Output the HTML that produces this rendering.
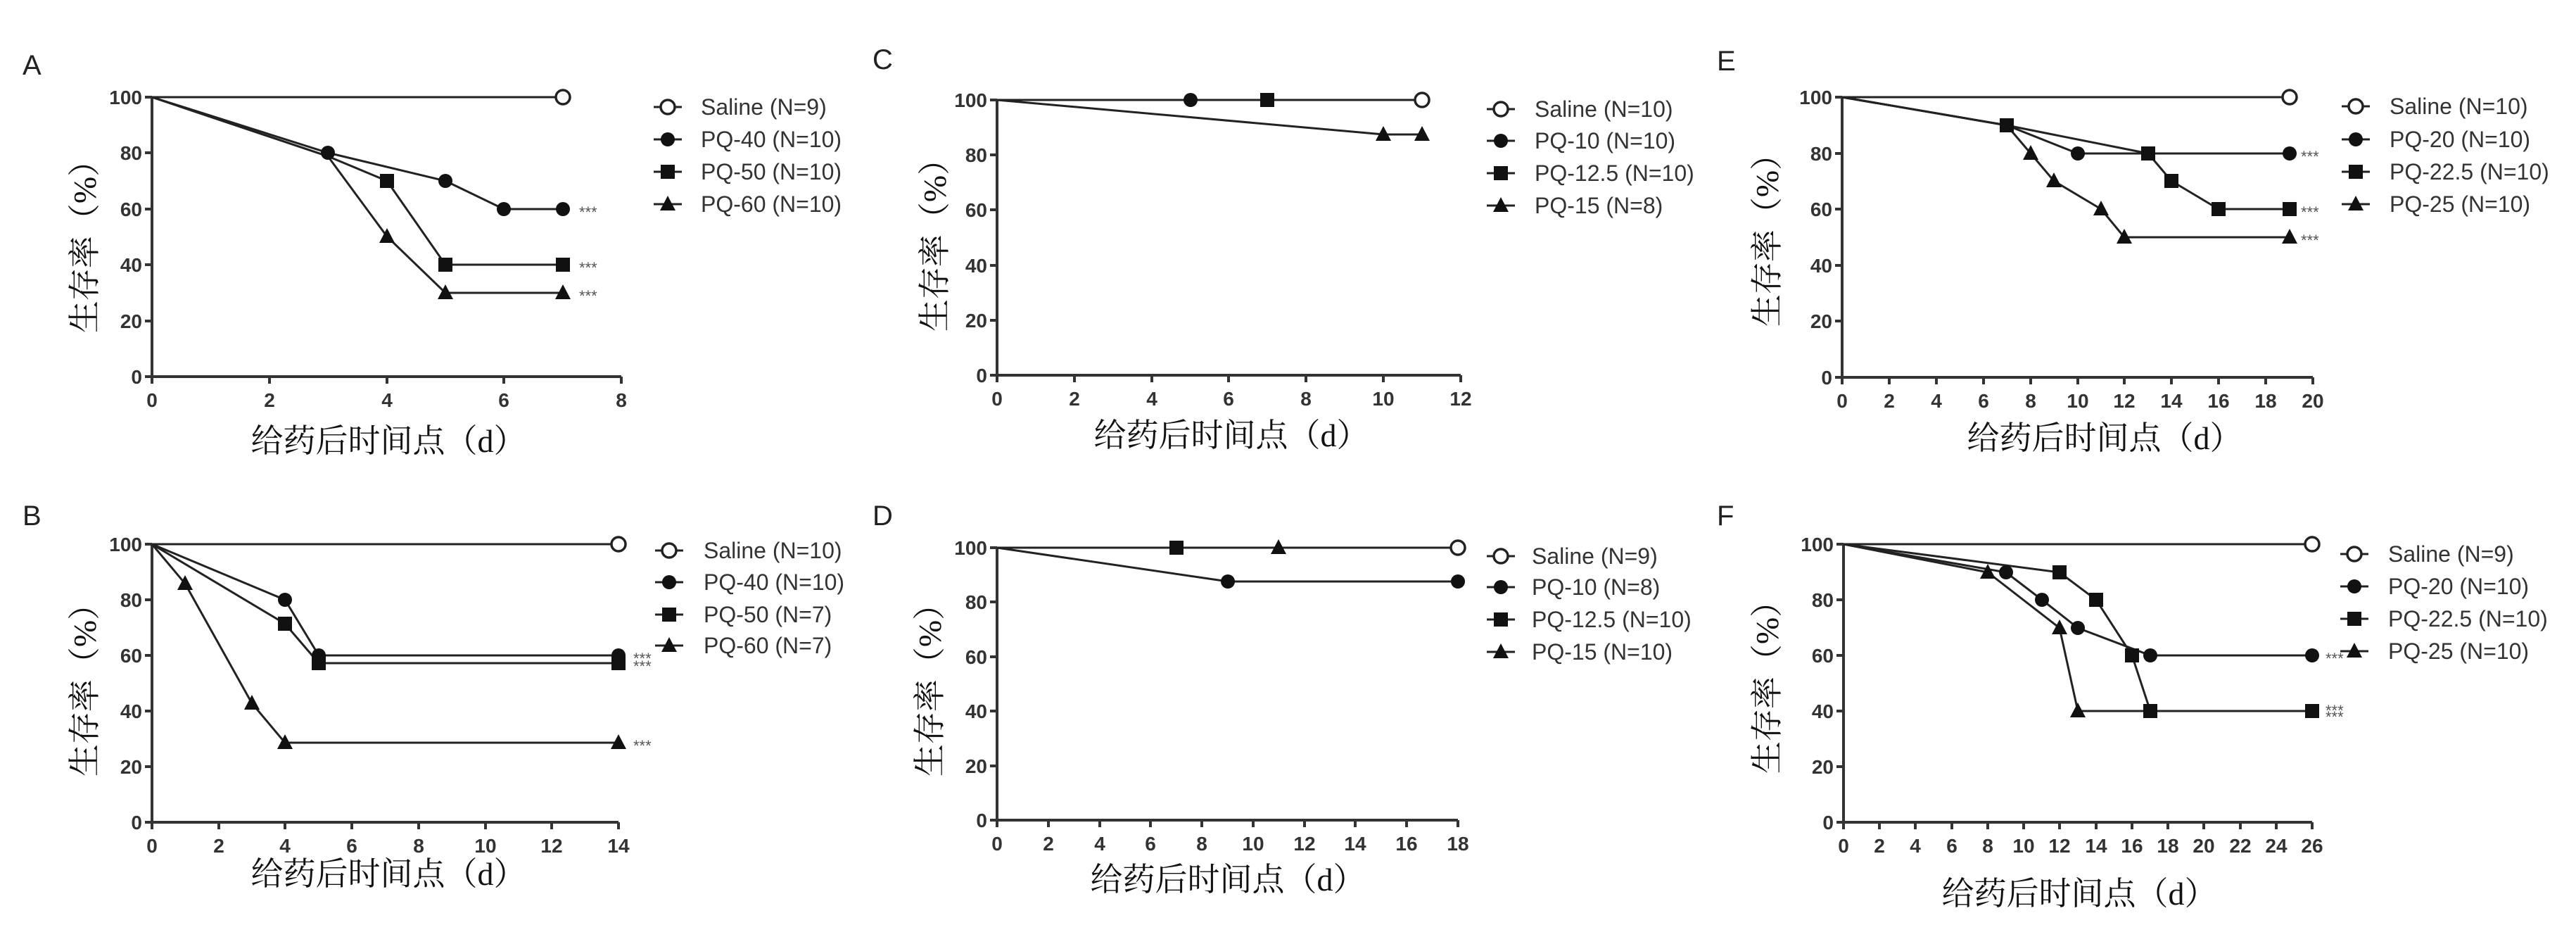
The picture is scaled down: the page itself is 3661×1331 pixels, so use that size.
<!DOCTYPE html>
<html><head><meta charset="utf-8"><style>
html,body{margin:0;padding:0;background:#fff;}
svg{display:block;}
.t{font-family:"Liberation Sans",Arial,sans-serif;font-size:28px;font-weight:bold;fill:#333;}
.lg{font-family:"Liberation Sans",Arial,sans-serif;font-size:32px;fill:#333;}
.pl{font-family:"Liberation Sans",Arial,sans-serif;font-size:40px;fill:#222;}
.cn{font-family:"Liberation Serif","Noto Serif CJK SC","Noto Sans CJK SC",serif;font-size:46px;fill:#111;}
.st{font-family:"Liberation Sans",Arial,sans-serif;font-size:22px;fill:#555;}
.ln{fill:none;stroke:#222;stroke-width:3;}
.ax{fill:none;stroke:#333;stroke-width:4;}
</style></head><body>
<svg width="3661" height="1331" viewBox="0 0 3661 1331" xmlns="http://www.w3.org/2000/svg">
<defs>
<g id="c"><circle r="10" fill="#111"/></g>
<g id="o"><circle r="10" fill="#fff" stroke="#222" stroke-width="3.5"/></g>
<g id="s"><rect x="-10" y="-10" width="20" height="20" fill="#111"/></g>
<g id="tr"><polygon points="0,-12 11,9 -11,9" fill="#111"/></g>
</defs>

<!-- ============ PANEL A ============ -->
<text class="pl" x="32" y="106">A</text>
<path class="ax" d="M216,138 V535 H883"/>
<path class="ax" stroke-width="3" d="M206,138H216M206,217H216M206,297H216M206,376H216M206,456H216M206,535H216M216,535V545M383,535V545M550,535V545M716,535V545M883,535V545"/>
<g class="t" text-anchor="end"><text x="202" y="148">100</text><text x="202" y="227">80</text><text x="202" y="307">60</text><text x="202" y="386">40</text><text x="202" y="466">20</text><text x="202" y="545">0</text></g>
<g class="t" text-anchor="middle"><text x="216" y="578">0</text><text x="383" y="578">2</text><text x="550" y="578">4</text><text x="716" y="578">6</text><text x="883" y="578">8</text></g>
<polyline class="ln" points="216,138 800,138"/>
<polyline class="ln" points="216,138 466,217 633,257 716,297 800,297"/>
<polyline class="ln" points="216,138 466,222 550,257 633,376 800,376"/>
<polyline class="ln" points="216,138 466,222 550,336 633,416 800,416"/>
<use href="#o" x="800" y="138"/>
<use href="#c" x="466" y="217"/><use href="#c" x="633" y="257"/><use href="#c" x="716" y="297"/><use href="#c" x="800" y="297"/>
<use href="#s" x="550" y="257"/><use href="#s" x="633" y="376"/><use href="#s" x="800" y="376"/>
<use href="#tr" x="550" y="336"/><use href="#tr" x="633" y="416"/><use href="#tr" x="800" y="416"/>
<g class="st"><text x="823" y="309">***</text><text x="823" y="388">***</text><text x="823" y="428">***</text></g>
<g class="ln"><path d="M929,152H969M929,198H969M929,244H969M929,290H969"/></g>
<use href="#o" x="949" y="152"/><use href="#c" x="949" y="198"/><use href="#s" x="949" y="244"/><use href="#tr" x="949" y="290"/>
<g class="lg"><text x="996" y="163">Saline (N=9)</text><text x="996" y="209">PQ-40 (N=10)</text><text x="996" y="255">PQ-50 (N=10)</text><text x="996" y="301">PQ-60 (N=10)</text></g>
<text class="cn" x="552" y="642" text-anchor="middle">给药后时间点（d）</text>
<text class="cn" transform="translate(136,339) rotate(-90)" text-anchor="middle">生存率（%）</text>

<!-- ============ PANEL B ============ -->
<text class="pl" x="32" y="746">B</text>
<path class="ax" d="M216,773 V1168 H879"/>
<path class="ax" stroke-width="3" d="M206,773H216M206,852H216M206,931H216M206,1010H216M206,1089H216M206,1168H216M216,1168V1178M311,1168V1178M405,1168V1178M500,1168V1178M595,1168V1178M690,1168V1178M784,1168V1178M879,1168V1178"/>
<g class="t" text-anchor="end"><text x="202" y="783">100</text><text x="202" y="862">80</text><text x="202" y="941">60</text><text x="202" y="1020">40</text><text x="202" y="1099">20</text><text x="202" y="1178">0</text></g>
<g class="t" text-anchor="middle"><text x="216" y="1211">0</text><text x="311" y="1211">2</text><text x="405" y="1211">4</text><text x="500" y="1211">6</text><text x="595" y="1211">8</text><text x="690" y="1211">10</text><text x="784" y="1211">12</text><text x="879" y="1211">14</text></g>
<polyline class="ln" points="216,773 879,773"/>
<polyline class="ln" points="216,773 405,852 453,931 879,931"/>
<polyline class="ln" points="216,773 405,886 453,942 879,942"/>
<polyline class="ln" points="216,773 263,829 358,999 405,1055 879,1055"/>
<use href="#o" x="879" y="773"/>
<use href="#c" x="405" y="852"/><use href="#c" x="453" y="931"/><use href="#c" x="879" y="931"/>
<use href="#s" x="405" y="886"/><use href="#s" x="453" y="942"/><use href="#s" x="879" y="942"/>
<use href="#tr" x="263" y="829"/><use href="#tr" x="358" y="999"/><use href="#tr" x="405" y="1055"/><use href="#tr" x="879" y="1055"/>
<g class="st"><text x="900" y="943">***</text><text x="900" y="954">***</text><text x="900" y="1067">***</text></g>
<g class="ln"><path d="M931,782H971M931,827H971M931,873H971M931,917H971"/></g>
<use href="#o" x="951" y="782"/><use href="#c" x="951" y="827"/><use href="#s" x="951" y="873"/><use href="#tr" x="951" y="917"/>
<g class="lg"><text x="1000" y="793">Saline (N=10)</text><text x="1000" y="838">PQ-40 (N=10)</text><text x="1000" y="884">PQ-50 (N=7)</text><text x="1000" y="928">PQ-60 (N=7)</text></g>
<text class="cn" x="552" y="1257" text-anchor="middle">给药后时间点（d）</text>
<text class="cn" transform="translate(136,969) rotate(-90)" text-anchor="middle">生存率（%）</text>

<!-- ============ PANEL C ============ -->
<text class="pl" x="1240" y="98">C</text>
<path class="ax" d="M1417,142 V533 H2076"/>
<path class="ax" stroke-width="3" d="M1407,142H1417M1407,220H1417M1407,298H1417M1407,377H1417M1407,455H1417M1407,533H1417M1417,533V543M1527,533V543M1637,533V543M1746,533V543M1856,533V543M1966,533V543M2076,533V543"/>
<g class="t" text-anchor="end"><text x="1403" y="152">100</text><text x="1403" y="230">80</text><text x="1403" y="308">60</text><text x="1403" y="387">40</text><text x="1403" y="465">20</text><text x="1403" y="543">0</text></g>
<g class="t" text-anchor="middle"><text x="1417" y="576">0</text><text x="1527" y="576">2</text><text x="1637" y="576">4</text><text x="1746" y="576">6</text><text x="1856" y="576">8</text><text x="1966" y="576">10</text><text x="2076" y="576">12</text></g>
<polyline class="ln" points="1417,142 2021,142"/>
<polyline class="ln" points="1417,142 1966,191 2021,191"/>
<use href="#o" x="2021" y="142"/><use href="#c" x="1692" y="142"/><use href="#s" x="1801" y="142"/>
<use href="#tr" x="1966" y="191"/><use href="#tr" x="2021" y="191"/>
<g class="ln"><path d="M2113,155H2153M2113,200H2153M2113,246H2153M2113,292H2153"/></g>
<use href="#o" x="2133" y="155"/><use href="#c" x="2133" y="200"/><use href="#s" x="2133" y="246"/><use href="#tr" x="2133" y="292"/>
<g class="lg"><text x="2181" y="166">Saline (N=10)</text><text x="2181" y="211">PQ-10 (N=10)</text><text x="2181" y="257">PQ-12.5 (N=10)</text><text x="2181" y="303">PQ-15 (N=8)</text></g>
<text class="cn" x="1750" y="634" text-anchor="middle">给药后时间点（d）</text>
<text class="cn" transform="translate(1344,337) rotate(-90)" text-anchor="middle">生存率（%）</text>

<!-- ============ PANEL D ============ -->
<text class="pl" x="1240" y="746">D</text>
<path class="ax" d="M1417,778 V1165 H2072"/>
<path class="ax" stroke-width="3" d="M1407,778H1417M1407,855H1417M1407,933H1417M1407,1010H1417M1407,1088H1417M1407,1165H1417M1417,1165V1175M1490,1165V1175M1563,1165V1175M1635,1165V1175M1708,1165V1175M1781,1165V1175M1854,1165V1175M1926,1165V1175M1999,1165V1175M2072,1165V1175"/>
<g class="t" text-anchor="end"><text x="1403" y="788">100</text><text x="1403" y="865">80</text><text x="1403" y="943">60</text><text x="1403" y="1020">40</text><text x="1403" y="1098">20</text><text x="1403" y="1175">0</text></g>
<g class="t" text-anchor="middle"><text x="1417" y="1208">0</text><text x="1490" y="1208">2</text><text x="1563" y="1208">4</text><text x="1635" y="1208">6</text><text x="1708" y="1208">8</text><text x="1781" y="1208">10</text><text x="1854" y="1208">12</text><text x="1926" y="1208">14</text><text x="1999" y="1208">16</text><text x="2072" y="1208">18</text></g>
<polyline class="ln" points="1417,778 2072,778"/>
<polyline class="ln" points="1417,778 1745,826 2072,826"/>
<use href="#o" x="2072" y="778"/><use href="#s" x="1672" y="778"/><use href="#tr" x="1817" y="778"/>
<use href="#c" x="1745" y="826"/><use href="#c" x="2072" y="826"/>
<g class="ln"><path d="M2113,790H2153M2113,834H2153M2113,880H2153M2113,926H2153"/></g>
<use href="#o" x="2133" y="790"/><use href="#c" x="2133" y="834"/><use href="#s" x="2133" y="880"/><use href="#tr" x="2133" y="926"/>
<g class="lg"><text x="2177" y="801">Saline (N=9)</text><text x="2177" y="845">PQ-10 (N=8)</text><text x="2177" y="891">PQ-12.5 (N=10)</text><text x="2177" y="937">PQ-15 (N=10)</text></g>
<text class="cn" x="1745" y="1265" text-anchor="middle">给药后时间点（d）</text>
<text class="cn" transform="translate(1337,969) rotate(-90)" text-anchor="middle">生存率（%）</text>

<!-- ============ PANEL E ============ -->
<text class="pl" x="2440" y="100">E</text>
<path class="ax" d="M2618,138 V536 H3287"/>
<path class="ax" stroke-width="3" d="M2608,138H2618M2608,218H2618M2608,297H2618M2608,377H2618M2608,456H2618M2608,536H2618M2618,536V546M2685,536V546M2752,536V546M2819,536V546M2886,536V546M2953,536V546M3019,536V546M3086,536V546M3153,536V546M3220,536V546M3287,536V546"/>
<g class="t" text-anchor="end"><text x="2604" y="148">100</text><text x="2604" y="228">80</text><text x="2604" y="307">60</text><text x="2604" y="387">40</text><text x="2604" y="466">20</text><text x="2604" y="546">0</text></g>
<g class="t" text-anchor="middle"><text x="2618" y="579">0</text><text x="2685" y="579">2</text><text x="2752" y="579">4</text><text x="2819" y="579">6</text><text x="2886" y="579">8</text><text x="2953" y="579">10</text><text x="3019" y="579">12</text><text x="3086" y="579">14</text><text x="3153" y="579">16</text><text x="3220" y="579">18</text><text x="3287" y="579">20</text></g>
<polyline class="ln" points="2618,138 3254,138"/>
<polyline class="ln" points="2618,138 2852,178 2953,218 3254,218"/>
<polyline class="ln" points="2618,138 2852,178 3053,218 3086,257 3153,297 3254,297"/>
<polyline class="ln" points="2618,138 2852,178 2886,218 2919,257 2986,297 3019,337 3254,337"/>
<use href="#o" x="3254" y="138"/>
<use href="#c" x="2953" y="218"/><use href="#c" x="3254" y="218"/>
<use href="#s" x="2852" y="178"/><use href="#s" x="3053" y="218"/><use href="#s" x="3086" y="257"/><use href="#s" x="3153" y="297"/><use href="#s" x="3254" y="297"/>
<use href="#tr" x="2886" y="218"/><use href="#tr" x="2919" y="257"/><use href="#tr" x="2986" y="297"/><use href="#tr" x="3019" y="337"/><use href="#tr" x="3254" y="337"/>
<g class="st"><text x="3270" y="230">***</text><text x="3270" y="309">***</text><text x="3270" y="349">***</text></g>
<g class="ln"><path d="M3328,151H3368M3328,198H3368M3328,244H3368M3328,290H3368"/></g>
<use href="#o" x="3348" y="151"/><use href="#c" x="3348" y="198"/><use href="#s" x="3348" y="244"/><use href="#tr" x="3348" y="290"/>
<g class="lg"><text x="3396" y="162">Saline (N=10)</text><text x="3396" y="209">PQ-20 (N=10)</text><text x="3396" y="255">PQ-22.5 (N=10)</text><text x="3396" y="301">PQ-25 (N=10)</text></g>
<text class="cn" x="2991" y="638" text-anchor="middle">给药后时间点（d）</text>
<text class="cn" transform="translate(2527,330) rotate(-90)" text-anchor="middle">生存率（%）</text>

<!-- ============ PANEL F ============ -->
<text class="pl" x="2440" y="746">F</text>
<path class="ax" d="M2620,773 V1168 H3286"/>
<path class="ax" stroke-width="3" d="M2610,773H2620M2610,852H2620M2610,931H2620M2610,1010H2620M2610,1089H2620M2610,1168H2620M2620,1168V1178M2671,1168V1178M2722,1168V1178M2774,1168V1178M2825,1168V1178M2876,1168V1178M2927,1168V1178M2979,1168V1178M3030,1168V1178M3081,1168V1178M3132,1168V1178M3184,1168V1178M3235,1168V1178M3286,1168V1178"/>
<g class="t" text-anchor="end"><text x="2606" y="783">100</text><text x="2606" y="862">80</text><text x="2606" y="941">60</text><text x="2606" y="1020">40</text><text x="2606" y="1099">20</text><text x="2606" y="1178">0</text></g>
<g class="t" text-anchor="middle"><text x="2620" y="1211">0</text><text x="2671" y="1211">2</text><text x="2722" y="1211">4</text><text x="2774" y="1211">6</text><text x="2825" y="1211">8</text><text x="2876" y="1211">10</text><text x="2927" y="1211">12</text><text x="2979" y="1211">14</text><text x="3030" y="1211">16</text><text x="3081" y="1211">18</text><text x="3132" y="1211">20</text><text x="3184" y="1211">22</text><text x="3235" y="1211">24</text><text x="3286" y="1211">26</text></g>
<polyline class="ln" points="2620,773 3286,773"/>
<polyline class="ln" points="2620,773 2851,813 2902,852 2953,892 3056,931 3286,931"/>
<polyline class="ln" points="2620,773 2927,813 2979,852 3030,931 3056,1010 3286,1010"/>
<polyline class="ln" points="2620,773 2825,813 2927,892 2953,1010 3056,1010"/>
<use href="#o" x="3286" y="773"/>
<use href="#c" x="2851" y="813"/><use href="#c" x="2902" y="852"/><use href="#c" x="2953" y="892"/><use href="#c" x="3056" y="931"/><use href="#c" x="3286" y="931"/>
<use href="#tr" x="2825" y="813"/><use href="#tr" x="2927" y="892"/><use href="#tr" x="2953" y="1010"/>
<use href="#s" x="2927" y="813"/><use href="#s" x="2979" y="852"/><use href="#s" x="3030" y="931"/><use href="#s" x="3056" y="1010"/><use href="#s" x="3286" y="1010"/>
<g class="st"><text x="3305" y="943">***</text><text x="3305" y="1017">***</text><text x="3305" y="1026">***</text></g>
<g class="ln"><path d="M3326,787H3366M3326,833H3366M3326,879H3366M3326,925H3366"/></g>
<use href="#o" x="3346" y="787"/><use href="#c" x="3346" y="833"/><use href="#s" x="3346" y="879"/><use href="#tr" x="3346" y="925"/>
<g class="lg"><text x="3394" y="798">Saline (N=9)</text><text x="3394" y="844">PQ-20 (N=10)</text><text x="3394" y="890">PQ-22.5 (N=10)</text><text x="3394" y="936">PQ-25 (N=10)</text></g>
<text class="cn" x="2955" y="1285" text-anchor="middle">给药后时间点（d）</text>
<text class="cn" transform="translate(2527,965) rotate(-90)" text-anchor="middle">生存率（%）</text>
</svg>
</body></html>
